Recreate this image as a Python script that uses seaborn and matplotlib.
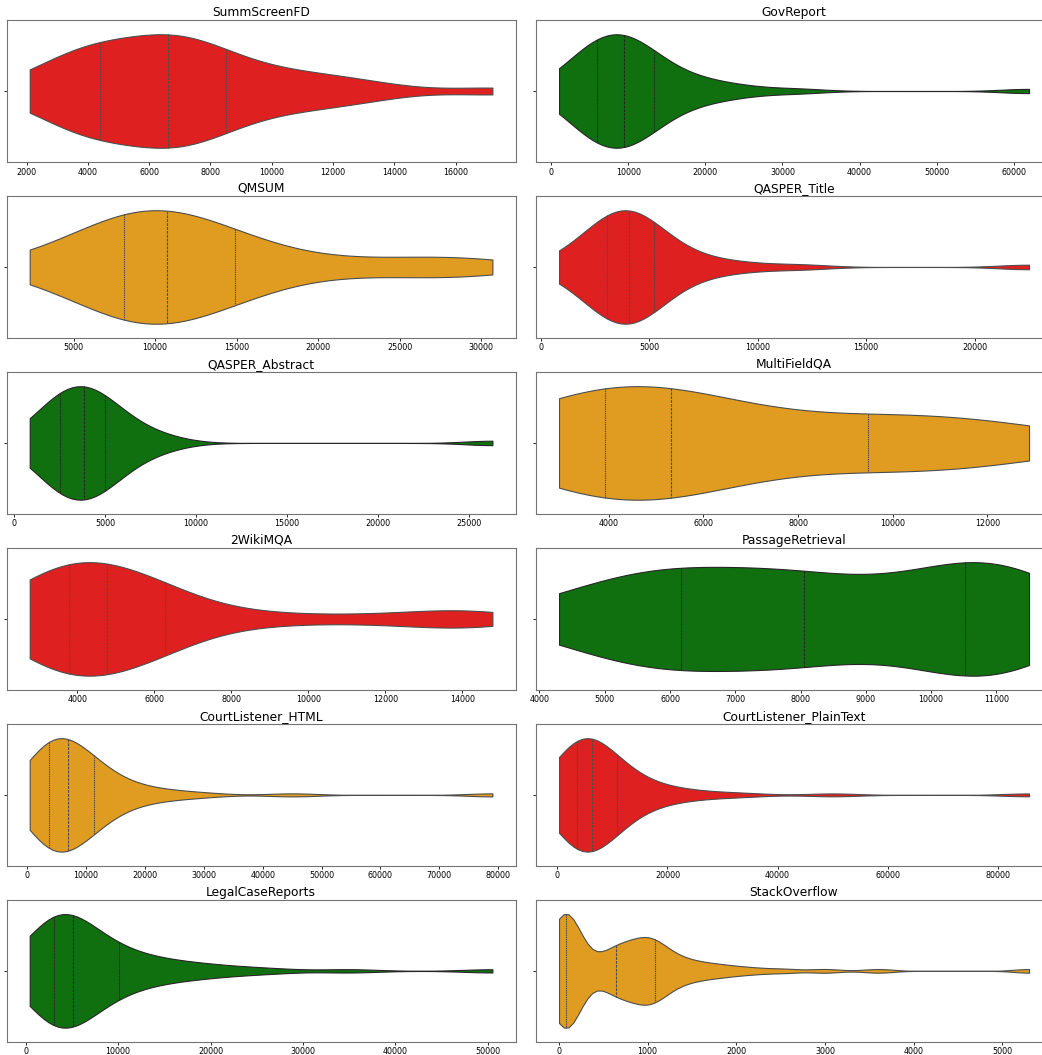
import matplotlib
matplotlib.use("Agg")
import matplotlib.pyplot as plt
import seaborn as sns

# token counts per document
names = ["SummScreenFD", "GovReport", "QMSUM", "QASPER_Title",
         "QASPER_Abstract", "MultiFieldQA", "2WikiMQA", "PassageRetrieval",
         "CourtListener_HTML", "CourtListener_PlainText",
         "LegalCaseReports", "StackOverflow"]
colors = ["red", "green", "orange"] * 4
# kde bandwidth factor per panel (the originals were bigger samples)
bw_adjust = [0.9, 0.8, 1, 0.8, 0.8, 1.15, 0.8, 0.8, 0.8, 0.8, 0.8, 0.45]

summscreenfd = [2100, 2500, 2900, 3250, 3550, 3800, 4000, 4150, 4250, 4350,
                4420, 4750, 5100, 5450, 5750, 6000, 6200, 6350, 6480, 6560,
                6640, 6800, 7000, 7200, 7400, 7600, 7800, 8000, 8200, 8400,
                8800, 9200, 9700, 10200, 10700, 11300, 11900, 12600, 13600, 17200]
govreport = [1000, 1800, 2500, 3100, 3600, 4000, 4400, 4800, 5100, 5400, 5650, 5850,
             5920, 6300, 6700, 7100, 7500, 7900, 8200, 8500, 8800, 9000, 9200, 9350,
             9450, 9700, 10000, 10300, 10600, 10900, 11300, 11700, 12100, 12500, 12900, 13200,
             13600, 14300, 15100, 16000, 17000, 18200, 19500, 21000, 23000, 26000, 32000, 62000]
qmsum = [2300, 3500, 4500, 5300, 5900, 6400, 6900, 7300, 7650, 7950,
         8100, 8500, 8900, 9300, 9600, 9900, 10100, 10300, 10500, 10650,
         10800, 11200, 11600, 12100, 12600, 13100, 13600, 14100, 14500, 14800,
         15200, 16000, 17000, 18500, 20500, 23000, 25500, 27500, 29000, 30700]
qasper_title = [850, 1400, 1800, 2100, 2350, 2550, 2700, 2850, 2950, 3050,
                3090, 3250, 3400, 3550, 3650, 3750, 3850, 3950, 4020, 4070,
                4110, 4200, 4300, 4400, 4500, 4650, 4800, 4950, 5100, 5200,
                5350, 5600, 5900, 6300, 6800, 7400, 8300, 9600, 12000, 22500]
qasper_abstract = [850, 1250, 1550, 1800, 2000, 2150, 2250, 2350, 2420, 2470,
                   2500, 2700, 2900, 3100, 3300, 3450, 3600, 3700, 3780, 3820,
                   3870, 3950, 4050, 4200, 4350, 4500, 4650, 4800, 4900, 4970,
                   5100, 5300, 5550, 5850, 6200, 6600, 7100, 7700, 8600, 26300]
multifieldqa = [2950, 3300, 3550, 3750, 3880, 3935, 4300, 4700, 5000, 5250,
                5390, 5900, 6700, 7800, 9300, 10020, 10400, 11000, 12000, 12880]
wikimqa = [2760, 2770, 2790, 2820, 2870, 2950, 3100, 3300, 3500, 3720,
           3800, 3900, 4000, 4100, 4200, 4300, 4420, 4550, 4650, 4730,
           4810, 4950, 5100, 5300, 5500, 5700, 5900, 6050, 6180, 6250,
           6380, 6800, 7400, 8200, 9300, 11000, 12600, 13500, 14200, 14780]
passage_retrieval = [4300, 4900, 5400, 5800, 6100, 6200, 6800, 7350, 7750, 8000,
                     8110, 8900, 9600, 10100, 10450, 10750, 10950, 11150, 11350, 11500]
courtlistener_html = [450, 900, 1300, 1650, 1950, 2200, 2450, 2650, 2850, 3050,
                      3200, 3350, 3500, 3620, 3720,
                      3760, 3950, 4150, 4350, 4550, 4750, 4950, 5150, 5350, 5550,
                      5800, 6100, 6400, 6700, 6880,
                      6980, 7250, 7550, 7850, 8150, 8450, 8750, 9050, 9350, 9650,
                      9950, 10300, 10650, 11000, 11300,
                      11540, 12000, 12600, 13300, 14100, 15000, 16000, 17200, 18600,
                      20300, 22500, 25500, 30000, 45000, 79000]
courtlistener_plain = [300, 700, 1050, 1350, 1650, 1900, 2150, 2350, 2550, 2750,
                       2950, 3100, 3250, 3400, 3530,
                       3590, 3750, 3900, 4050, 4200, 4350, 4500, 4650, 4800, 4950,
                       5150, 5400, 5700, 6000, 6320,
                       6410, 6700, 7000, 7300, 7600, 7900, 8200, 8500, 8800, 9100,
                       9400, 9750, 10100, 10450, 10800,
                       11240, 11800, 12500, 13300, 14200, 15200, 16400, 17800, 19400,
                       21400, 24000, 28000, 34000, 50000, 85700]
legal_case_reports = [430, 800, 1100, 1350, 1600, 1800, 2000, 2200, 2350, 2500,
                      2620, 2740, 2850, 2940, 3000,
                      3040, 3200, 3400, 3600, 3800, 3950, 4100, 4250, 4400, 4550,
                      4700, 4850, 4980, 5080, 5130,
                      5190, 5450, 5750, 6050, 6350, 6650, 6950, 7300, 7650, 8000,
                      8400, 8800, 9200, 9600, 9950,
                      10550, 11200, 11900, 12700, 13500, 14400, 15400, 16500, 17800,
                      19300, 21000, 23500, 27000, 35000, 50500]
stackoverflow = [2, 8, 14, 20, 26, 31, 36, 41, 45, 49, 53, 57, 60, 63, 66, 69, 72, 74, 76, 77,
                 80, 84, 88, 93, 99, 106, 115, 126, 140, 160, 180, 220, 280, 480, 540,
                 570, 595, 615, 630, 640,
                 650, 680, 715, 750, 785, 815, 845, 870, 895, 915, 935, 955, 975, 995, 1015,
                 1030, 1045, 1058, 1069, 1078,
                 1100, 1130, 1165, 1200, 1240, 1285, 1335, 1390, 1450, 1520, 1600, 1690,
                 1790, 1900, 2050, 2250, 2550, 3000, 3600, 5300]

series = [summscreenfd, govreport, qmsum, qasper_title, qasper_abstract,
          multifieldqa, wikimqa, passage_retrieval, courtlistener_html,
          courtlistener_plain, legal_case_reports, stackoverflow]

plt.rcParams["axes.edgecolor"] = "0.45"

fig, axes = plt.subplots(6, 2, figsize=(10.42, 10.55), dpi=100,
                         gridspec_kw={"width_ratios": [509, 517]})
# the right column runs slightly past the image edge, as in the reference
plt.subplots_adjust(left=0.0063, right=1.0101, top=0.981, bottom=0.0125,
                    wspace=0.039, hspace=0.24)

for ax, name, vals, c, bw in zip(axes.flat, names, series, colors, bw_adjust):
    sns.violinplot(x=vals, ax=ax, color=c, inner="quart", cut=0,
                   linewidth=0.8, bw_adjust=bw)
    ax.set_title(name, fontsize=8.8, pad=3)
    ax.set_ylim(0.5, -0.5)
    ax.set_yticks([0])
    ax.set_yticklabels([""])
    ax.tick_params(labelsize=5.8, length=2.5, width=0.6, pad=1.5)

plt.savefig("out.png", dpi=100)
